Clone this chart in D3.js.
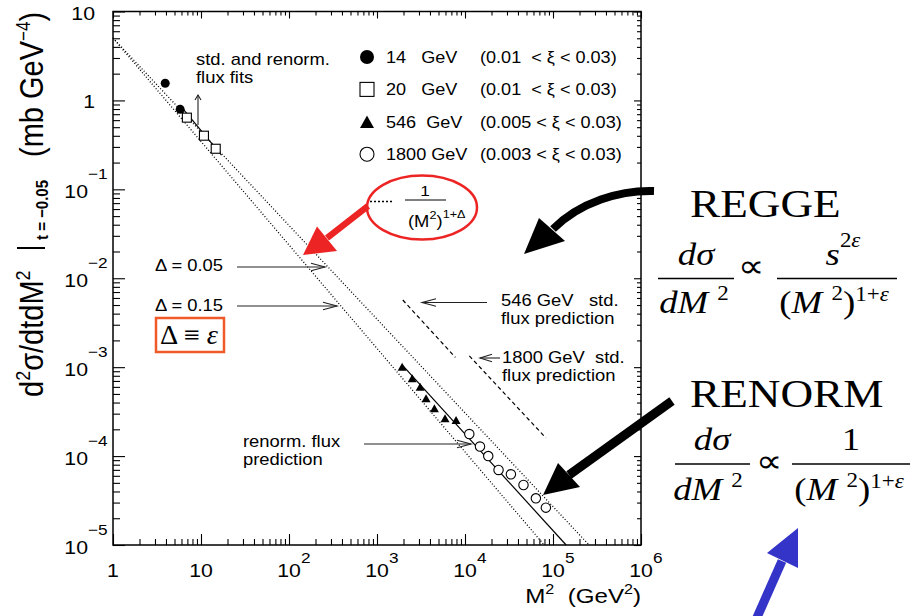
<!DOCTYPE html>
<html>
<head>
<meta charset="utf-8">
<script src="https://cdn.jsdelivr.net/npm/d3@7"></script>
<style>
  body { margin: 0; background: #fff; }
  svg text { white-space: pre; }
</style>
</head>
<body>
<div id="chart"></div>
<script>
// ------------------- DATA -------------------

// measured points, M^2 in GeV^2 and d2sigma/dtdM2 in mb GeV^-4
const m2_14 = [3.92, 5.80];
const ds_14 = [1.56, 0.794];
const m2_20 = [6.91, 10.8, 14.7];
const ds_20 = [0.640, 0.401, 0.286];
const m2_546 = [1930, 2510, 3090, 3610, 4490, 5930, 7910];
const ds_546 = [1.01e-3, 7.50e-4, 6.03e-4, 4.47e-4, 3.45e-4, 2.66e-4, 2.55e-4];
const m2_1800 = [11190, 14800, 18370, 24050, 33240, 46200, 63900, 83000];
const ds_1800 = [1.77e-4, 1.28e-4, 1.00e-4, 6.98e-5, 6.24e-5, 4.73e-5, 3.35e-5, 2.63e-5];

// curve end points (straight in log-log)
const delta05_m2 = [1, 2.57e5],   delta05_ds = [5.03, 1e-5];
const delta15_m2 = [1, 7.94e4],   delta15_ds = [5.03, 1e-5];
const renorm_m2 = [1930, 1.41e5], renorm_ds = [1.06e-3, 1e-5];
const fits_m2 = [5.75, 17.1],     fits_ds = [0.887, 0.243];
const std546_m2 = [1963, 7770],   std546_ds = [5.69e-3, 1.29e-3];
const std1800_m2 = [1.12e4, 8.30e4], std1800_ds = [1.34e-3, 1.60e-4];

// legend
const legendEnergies = ["14   GeV", "20   GeV", "546  GeV", "1800 GeV"];
const legendRanges = ["(0.01  < ξ < 0.03)", "(0.01  < ξ < 0.03)", "(0.005 < ξ < 0.03)", "(0.003 < ξ < 0.03)"];
const legendKinds = ["dot", "square", "tri", "ring"];

// ticks
const xTicks = [1, 10, 1e2, 1e3, 1e4, 1e5, 1e6];
const xTickBase = ["1", "10", "10", "10", "10", "10", "10"];
const xTickExp = ["", "", "2", "3", "4", "5", "6"];
const yTicks = [1e-5, 1e-4, 1e-3, 1e-2, 1e-1, 1, 10];
const yTickBase = ["10", "10", "10", "10", "10", "1", "10"];
const yTickExp = ["−5", "−4", "−3", "−2", "−1", "", ""];

// ------------------- HELPERS -------------------

const SX = 1.15;   // the slide is stretched sideways, so is its text
const SANS = "Liberation Sans, Arial, Helvetica, sans-serif";
const SERIF = "Liberation Serif, Times New Roman, serif";

let svg = d3.select("#chart")
            .append("svg")
            .attr("width", 914)
            .attr("height", 616)

let x = d3.scaleLog().domain([1, 1e6]).range([113, 641]);
let y = d3.scaleLog().domain([1e-5, 10]).range([545, 11.5]);

// text with optional tspans: parts = [{t, size, dy, it}]
function rich(g, px, py, parts, size, opts = {}) {
    let t = g.append("text")
             .attr("transform", `translate(${px},${py}) scale(${opts.sx || SX},1)` + (opts.rot ? ` rotate(${opts.rot})` : ""))
             .attr("font-family", opts.family || SANS)
             .attr("font-size", size)
             .attr("font-weight", opts.weight || "normal")
             .attr("text-anchor", opts.anchor || "start")
             .attr("fill", opts.fill || "#000")
    if (typeof parts === "string") parts = [{ t: parts }];
    parts.forEach(p => {
        t.append("tspan")
         .attr("dy", p.dy || 0)
         .attr("font-size", p.size || size)
         .attr("font-style", p.it ? "italic" : "normal")
         .text(p.t)
    });
    return t;
}

// thin annotation arrow with an open head
function arrow(g, x1, y1, x2, y2, len = 14, half = 3.7) {
    g.append("line")
     .attr("x1", x1).attr("y1", y1).attr("x2", x2).attr("y2", y2)
     .attr("stroke", "#222").attr("stroke-width", 1.1)
    let a = Math.atan2(y2 - y1, x2 - x1);
    let p = s => [x2 - len * Math.cos(a) + s * half * Math.sin(a), y2 - len * Math.sin(a) - s * half * Math.cos(a)];
    g.append("polyline")
     .attr("points", [p(1), [x2, y2], p(-1)].map(q => q.join(",")).join(" "))
     .attr("fill", "none").attr("stroke", "#222").attr("stroke-width", 1.1)
}

// thick slide arrow: shaft path + filled head
function bigArrow(g, d, head, color, width) {
    g.append("path").attr("d", d).attr("fill", "none")
     .attr("stroke", color).attr("stroke-width", width)
    g.append("polygon").attr("points", head.map(q => q.join(",")).join(" "))
     .attr("fill", color)
}

function marker(g, kind, cx, cy, s) {
    if (kind === "dot") {
        g.append("circle").attr("cx", cx).attr("cy", cy).attr("r", s / 2).attr("fill", "#000")
    } else if (kind === "ring") {
        g.append("circle").attr("cx", cx).attr("cy", cy).attr("r", s / 2)
         .attr("fill", "#fff").attr("stroke", "#000").attr("stroke-width", 1.1)
    } else if (kind === "square") {
        g.append("rect").attr("x", cx - s / 2).attr("y", cy - s / 2).attr("width", s).attr("height", s)
         .attr("fill", "#fff").attr("stroke", "#000").attr("stroke-width", 1.1)
    } else {
        let h = s * 0.9;
        g.append("polygon")
         .attr("points", [[cx, cy - h / 2], [cx - s / 2, cy + h / 2], [cx + s / 2, cy + h / 2]].map(q => q.join(",")).join(" "))
         .attr("fill", "#000")
    }
}

// ------------------- AXES AND FRAME -------------------

let minor = [];
for (let e = 0; e < 6; e++) for (let k = 2; k <= 9; k++) minor.push(k * Math.pow(10, e));
let minorY = [];
for (let e = -5; e < 1; e++) for (let k = 2; k <= 9; k++) minorY.push(k * Math.pow(10, e));

function tickAxis(axis, tr, vals, size) {
    let g = svg.append("g").attr("transform", tr)
               .call(axis.tickValues(vals).tickSize(size).tickFormat(""))
    g.select(".domain").remove();
    g.selectAll("line").attr("stroke", "#000").attr("stroke-width", 1.1);
}
tickAxis(d3.axisBottom(x), "translate(0,545)", xTicks, -11);
tickAxis(d3.axisBottom(x), "translate(0,545)", minor, -6);
tickAxis(d3.axisTop(x), "translate(0,11.5)", xTicks, -7);
tickAxis(d3.axisTop(x), "translate(0,11.5)", minor, -4);
tickAxis(d3.axisLeft(y), "translate(113,0)", yTicks, -12);
tickAxis(d3.axisLeft(y), "translate(113,0)", minorY, -7);
tickAxis(d3.axisRight(y), "translate(641,0)", yTicks, -7);
tickAxis(d3.axisRight(y), "translate(641,0)", minorY, -4);

svg.append("rect")
   .attr("x", x(1)).attr("y", y(10))
   .attr("width", x(1e6) - x(1)).attr("height", y(1e-5) - y(10))
   .attr("fill", "none").attr("stroke", "#000").attr("stroke-width", 1.5)

// tick labels
xTicks.forEach((v, i) => {
    rich(svg, x(v), 577, xTickBase[i], 18.5, { anchor: "middle" });
    if (xTickExp[i]) rich(svg, x(v) + 12, 563, xTickExp[i], 15);
});
yTicks.forEach((v, i) => {
    if (yTickExp[i]) {
        rich(svg, 88, y(v) + 8.5, yTickBase[i], 18.5, { anchor: "end" });
        rich(svg, 88, y(v) - 10.5, yTickExp[i], 15);
    } else {
        rich(svg, 95, y(v) + 8, yTickBase[i], 18.5, { anchor: "end" });
    }
});

// axis titles
rich(svg, 641, 603, [{ t: "M" }, { t: "2", size: 14, dy: -9 }, { t: "  (GeV", dy: 9 }, { t: "2", size: 14, dy: -9 }, { t: ")", dy: 9 }], 21, { anchor: "end" });

rich(svg, 43, 397, [{ t: "d" }, { t: "2", size: 18, dy: -11 }, { t: "σ/dtdM", dy: 11 }, { t: "2", size: 18, dy: -11 }], 29, { rot: -90 });
svg.append("line").attr("x1", 17).attr("x2", 45).attr("y1", 248).attr("y2", 248)
   .attr("stroke", "#000").attr("stroke-width", 2)
rich(svg, 48, 240, "t = −0.05", 15, { rot: -90, weight: "bold" });
rich(svg, 43, 157, [{ t: "(mb GeV" }, { t: "−4", size: 17, dy: -11 }, { t: ")", dy: 11 }], 29, { rot: -90 });

// ------------------- CURVES -------------------

let line = d3.line().x(d => x(d[0])).y(d => y(d[1]));
function curve(m2, ds, dash, w) {
    svg.append("path").datum(d3.zip(m2, ds)).attr("d", line)
       .attr("fill", "none").attr("stroke", "#000").attr("stroke-width", w)
       .attr("stroke-dasharray", dash)
}
curve(delta05_m2, delta05_ds, "1,2", 1.3);
curve(delta15_m2, delta15_ds, "1,2", 1.3);
curve(renorm_m2, renorm_ds, null, 1.2);
curve(fits_m2, fits_ds, null, 1.2);
curve(std546_m2, std546_ds, "4,3", 1.2);
curve(std1800_m2, std1800_ds, "4,3", 1.2);

// ------------------- DATA POINTS -------------------

[[m2_14, ds_14, "dot", 9], [m2_20, ds_20, "square", 9], [m2_546, ds_546, "tri", 9], [m2_1800, ds_1800, "ring", 9.4]]
    .forEach(([m2, ds, kind, s]) => d3.zip(m2, ds).forEach(d => marker(svg, kind, x(d[0]), y(d[1]), s)));

// ------------------- LEGEND -------------------

legendKinds.forEach((k, i) => {
    let cy = 57 + i * 32.4;
    marker(svg, k, 367, cy, 14);
    rich(svg, 386, cy + 6, legendEnergies[i], 16, { sx: 1.13 });
    rich(svg, 480, cy + 6, legendRanges[i], 16, { sx: 1.13 });
});

// ------------------- ANNOTATIONS -------------------

rich(svg, 196, 65, "std. and renorm.", 16);
rich(svg, 196, 83, "flux fits", 16);
arrow(svg, 198, 125, 198, 95, 5, 3);

rich(svg, 155, 271, [{ t: "Δ = 0.05" }], 16);
arrow(svg, 237, 267, 325, 267);
rich(svg, 155, 311, [{ t: "Δ = 0.15" }], 16);
arrow(svg, 237, 306, 337, 306);

rich(svg, 501, 306, "546 GeV   std.", 16);
rich(svg, 501, 324, "flux prediction", 16);
arrow(svg, 487, 302.5, 422, 302.5);
rich(svg, 502, 363, "1800 GeV  std.", 16);
rich(svg, 502, 381, "flux prediction", 16);
arrow(svg, 500, 358, 480, 358, 12, 3.7);

rich(svg, 243, 447, "renorm. flux", 16);
rich(svg, 243, 465, "prediction", 16);
arrow(svg, 364, 444, 471, 444);

// Delta = epsilon box
svg.append("rect").attr("x", 156).attr("y", 318).attr("width", 68).attr("height", 34)
   .attr("fill", "none").attr("stroke", "#f05a28").attr("stroke-width", 2.5)
rich(svg, 160, 344, [{ t: "Δ ≡ " }, { t: "ε", it: true }], 27, { family: SERIF, sx: 1.05 });

// red ellipse with 1/(M^2)^(1+Delta)
svg.append("ellipse").attr("cx", 422).attr("cy", 207.5).attr("rx", 55).attr("ry", 32)
   .attr("fill", "none").attr("stroke", "#ec2424").attr("stroke-width", 2.5)
svg.append("line").attr("x1", 370).attr("x2", 392).attr("y1", 201.5).attr("y2", 201.5)
   .attr("stroke", "#000").attr("stroke-width", 1.5).attr("stroke-dasharray", "2,2")
svg.append("line").attr("x1", 405).attr("x2", 446).attr("y1", 200).attr("y2", 200)
   .attr("stroke", "#000").attr("stroke-width", 1)
rich(svg, 425, 196, "1", 15, { anchor: "middle" });
rich(svg, 408, 227, [{ t: "(M" }, { t: "2", size: 11, dy: -8 }, { t: ")", dy: 8 }, { t: "1+Δ", size: 11, dy: -9 }], 16);
bigArrow(svg, "M368,206 L327,238", [[303, 255], [317, 226.5], [337, 251]], "#ec2424", 6.5);

// black and blue slide arrows
bigArrow(svg, "M654,191 C620,190 580,202 553,229", [[524, 254], [539, 218], [565, 241]], "#000", 8);
bigArrow(svg, "M672,401 L569,475", [[543, 495], [558, 463], [580, 487]], "#000", 9);
bigArrow(svg, "M755,622 L782,561", [[798, 528], [767, 553], [798, 568]], "#3434c8", 9);

// ------------------- FORMULAS -------------------

function bar(x1, x2, yy) {
    svg.append("line").attr("x1", x1).attr("x2", x2).attr("y1", yy).attr("y2", yy)
       .attr("stroke", "#000").attr("stroke-width", 1.5)
}
const sq = [{ t: "2", size: 20, dy: -13 }];

rich(svg, 690, 217, "REGGE", 39, { family: SERIF, sx: 1.16 });
rich(svg, 696, 265, [{ t: "dσ", it: true }], 32, { family: SERIF, anchor: "middle" });
bar(658, 734, 278.5);
rich(svg, 694, 313, [{ t: "dM ", it: true }].concat(sq), 32, { family: SERIF, anchor: "middle" });
rich(svg, 751, 277, "∝", 32, { family: SERIF, anchor: "middle" });
rich(svg, 843, 265, [{ t: "s", it: true }, { t: "2", size: 20, dy: -18 }, { t: "ε", size: 20, it: true }], 32, { family: SERIF, anchor: "middle" });
bar(777, 897, 278.5);
rich(svg, 834, 313, [{ t: "(" }, { t: "M ", it: true }, { t: "2", size: 20, dy: -13 }, { t: ")", dy: 13 }, { t: "1+", size: 20, dy: -12 }, { t: "ε", size: 20, it: true }], 32, { family: SERIF, anchor: "middle" });

rich(svg, 690, 407, "RENORM", 39, { family: SERIF, sx: 1.16 });
rich(svg, 712, 450, [{ t: "dσ", it: true }], 32, { family: SERIF, anchor: "middle" });
bar(675, 750, 464);
rich(svg, 708, 500, [{ t: "dM ", it: true }].concat(sq), 32, { family: SERIF, anchor: "middle" });
rich(svg, 769, 472, "∝", 32, { family: SERIF, anchor: "middle" });
rich(svg, 851, 450, "1", 32, { family: SERIF, anchor: "middle" });
bar(792, 910, 464);
rich(svg, 849, 500, [{ t: "(" }, { t: "M ", it: true }, { t: "2", size: 20, dy: -13 }, { t: ")", dy: 13 }, { t: "1+", size: 20, dy: -12 }, { t: "ε", size: 20, it: true }], 32, { family: SERIF, anchor: "middle" });
</script>
</body>
</html>
